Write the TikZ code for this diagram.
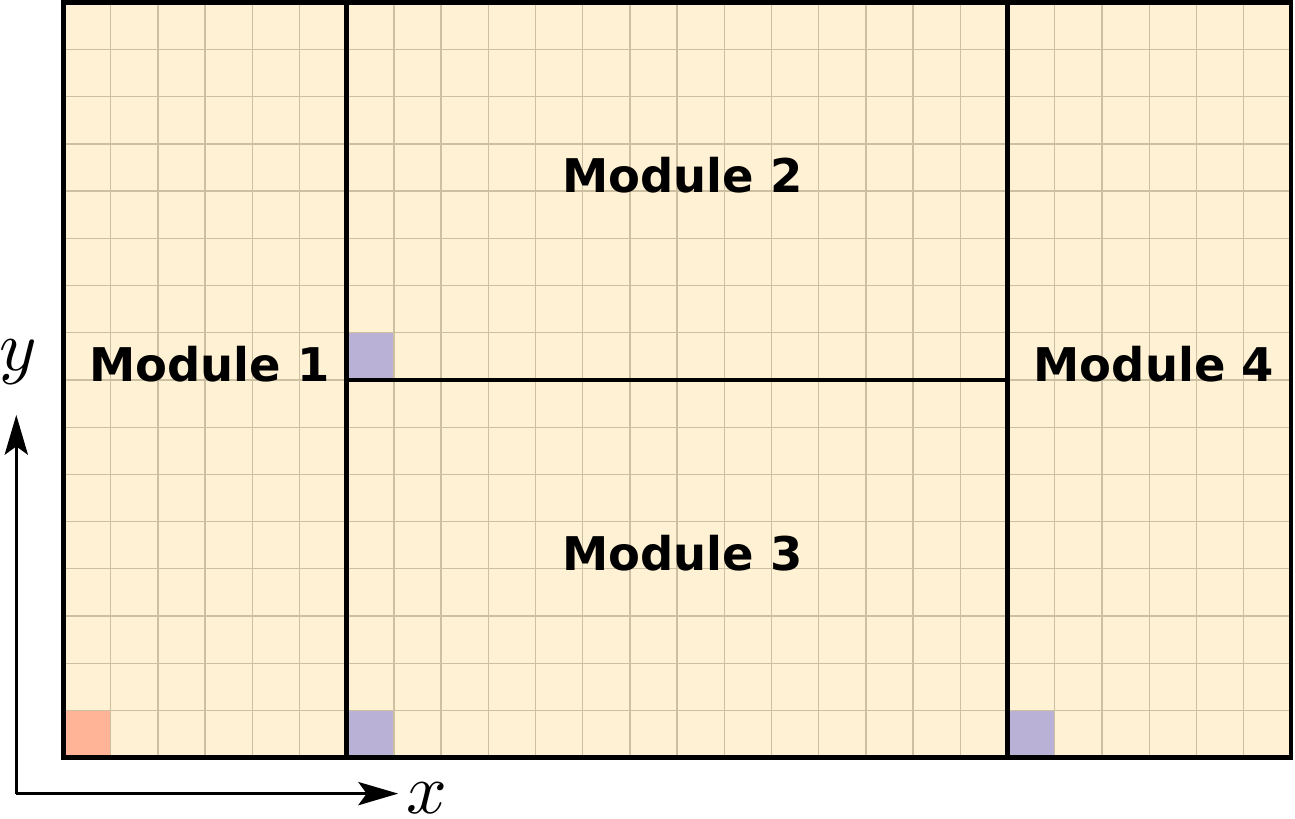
\documentclass[tikz,border=0pt]{standalone}
\usepackage{fontspec}
\newfontfamily\labelfont{DejaVu Sans}
\usetikzlibrary{arrows.meta}
\definecolor{cream}{RGB}{255,242,212}
\definecolor{gridtan}{RGB}{205,192,162}
\definecolor{orangecell}{RGB}{255,180,152}
\definecolor{purplecell}{RGB}{185,177,214}
\begin{document}
\begin{tikzpicture}[x=1cm,y=1cm,
  framestyle/.style={line width=2.7pt,draw=black},
  gridstyle/.style={line width=0.8pt,draw=gridtan},
  modlabel/.style={font=\labelfont\bfseries\fontsize{28}{32}\selectfont,anchor=base,inner sep=0pt},
  axislabel/.style={scale=4.3,inner sep=0pt},
  axisarrow/.style={line width=1.8pt,-{Stealth[length=24pt,width=14pt,inset=5pt]}}]
\useasboundingbox (-1.345,-1.282) rectangle (26.09,16.05);
\fill[cream] (0,0) rectangle (26,16);
\fill[orangecell] (0,0) rectangle (1,1);
\fill[purplecell] (6,0) rectangle (7,1);
\fill[purplecell] (20,0) rectangle (21,1);
\fill[purplecell] (6,8) rectangle (7,9);
\draw[gridstyle] (0,0) grid (26,16);
\draw[framestyle] (0,0) rectangle (26,16);
\draw[framestyle] (6,0) -- (6,16);
\draw[framestyle] (20,0) -- (20,16);
\draw[framestyle] (6,8) -- (20,8);
\node[modlabel] (m1) at (3.09,7.97) {Module 1};
\node[modlabel] (m2) at (13.11,11.97) {Module 2};
\node[modlabel] (m3) at (13.11,3.97) {Module 3};
\node[modlabel] (m4) at (23.1,7.97) {Module 4};
\coordinate (O) at (-1.0,-0.763);
\coordinate (xend) at (7.09,-0.763);
\coordinate (yend) at (-1.0,7.26);
\draw[axisarrow] (O) -- (xend);
\draw[axisarrow] (O) -- (yend);
\node[axislabel] (xl) at (7.70,-0.86) {$x$};
\node[axislabel] (yl) at (-0.96,8.38) {$y$};
\end{tikzpicture}
\end{document}
